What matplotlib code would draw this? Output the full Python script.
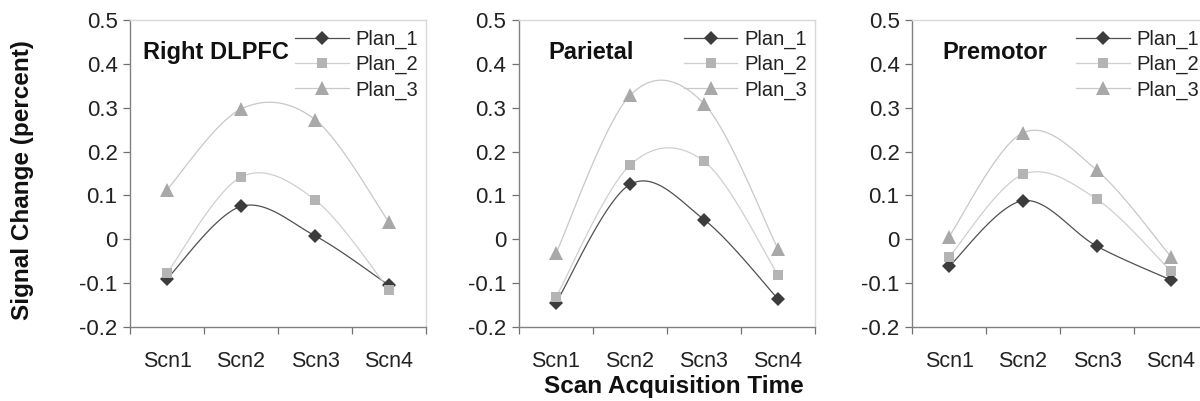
import numpy as np
import matplotlib
matplotlib.use("Agg")
import matplotlib.pyplot as plt

plt.rcParams['font.family'] = ['Liberation Sans', 'DejaVu Sans']

categories = ["Scn1", "Scn2", "Scn3", "Scn4"]
series_names = ["Plan_1", "Plan_2", "Plan_3"]
panel_titles = ["Right DLPFC", "Parietal", "Premotor"]

dlpfc_plan1 = [-0.090, 0.075, 0.008, -0.105]
dlpfc_plan2 = [-0.077, 0.142, 0.090, -0.115]
dlpfc_plan3 = [0.113, 0.297, 0.273, 0.039]

parietal_plan1 = [-0.145, 0.125, 0.045, -0.136]
parietal_plan2 = [-0.132, 0.169, 0.178, -0.081]
parietal_plan3 = [-0.032, 0.328, 0.309, -0.022]

premotor_plan1 = [-0.062, 0.088, -0.016, -0.093]
premotor_plan2 = [-0.041, 0.148, 0.091, -0.073]
premotor_plan3 = [0.006, 0.243, 0.157, -0.040]

panels = [
    [dlpfc_plan1, dlpfc_plan2, dlpfc_plan3],
    [parietal_plan1, parietal_plan2, parietal_plan3],
    [premotor_plan1, premotor_plan2, premotor_plan3],
]

y_ticks = [-0.2, -0.1, 0, 0.1, 0.2, 0.3, 0.4, 0.5]
y_tick_labels = ["-0.2", "-0.1", "0", "0.1", "0.2", "0.3", "0.4", "0.5"]

markers = ["D", "s", "^"]
marker_colors = ["#3c3c3c", "#b4b4b4", "#a8a8a8"]
line_colors = ["#505050", "#cfcfcf", "#c8c8c8"]
marker_sizes = [7.5, 7.5, 9.5]


def smooth(xs, ys, n=40):
    # Excel-style smoothed line: cubic Bezier segments, tension 1/6
    P = np.column_stack([xs, ys]).astype(float)
    m = len(P)
    out = []
    t = np.linspace(0, 1, n)[:, None]
    for i in range(m - 1):
        p0 = P[i - 1] if i > 0 else P[i]
        p1 = P[i]
        p2 = P[i + 1]
        p3 = P[i + 2] if i + 2 < m else P[i + 1]
        c1 = p1 + (p2 - p0) / 6.0
        c2 = p2 - (p3 - p1) / 6.0
        seg = ((1 - t) ** 3) * p1 + 3 * ((1 - t) ** 2) * t * c1 + 3 * (1 - t) * t ** 2 * c2 + t ** 3 * p2
        out.append(seg if i == 0 else seg[1:])
    arr = np.vstack(out)
    return arr[:, 0], arr[:, 1]


fig = plt.figure(figsize=(12, 4.01), dpi=100)

W, H = 1200, 401
ax_lefts = [130, 519, 912]
ax_w = 296
ax_top, ax_bot = 20, 327
title_x = [0.044, 0.098, 0.101]
legend_x = [0.558, 0.557, 0.555]

x = np.arange(len(categories))

for k, (data, title) in enumerate(zip(panels, panel_titles)):
    ax = fig.add_axes([ax_lefts[k] / W, 1 - ax_bot / H, ax_w / W, (ax_bot - ax_top) / H])
    handles = []
    for j, vals in enumerate(data):
        sx, sy = smooth(x, vals)
        ax.plot(sx, sy, color=line_colors[j], lw=0.9, zorder=2)
        ax.plot(x, vals, linestyle='none', marker=markers[j], color=marker_colors[j],
                markersize=marker_sizes[j], markeredgewidth=0, zorder=3)
        h, = ax.plot([], [], color=line_colors[j], lw=0.9, marker=markers[j],
                     markerfacecolor=marker_colors[j], markeredgewidth=0,
                     markersize=marker_sizes[j], label=series_names[j])
        handles.append(h)
    ax.set_xlim(-0.5, 3.5)
    ax.set_ylim(-0.2, 0.5)
    ax.set_yticks(y_ticks)
    ax.set_yticklabels(y_tick_labels)
    ax.set_xticks(x)
    ax.set_xticklabels(categories)
    ax.set_xticks(np.arange(-0.5, 3.6, 1.0), minor=True)
    ax.tick_params(axis='x', which='major', length=0, pad=17, labelsize=15.5, colors='#222222')
    ax.tick_params(axis='x', which='minor', length=5, width=0.9, color='#707070', direction='out')
    ax.tick_params(axis='y', length=5, width=0.9, color='#707070', direction='out', labelsize=16,
                   labelcolor='#222222', pad=4)
    for s in ['left', 'bottom']:
        ax.spines[s].set_color('#808080')
        ax.spines[s].set_linewidth(1.0)
    for s in ['top', 'right']:
        ax.spines[s].set_color('#d8d8d8')
        ax.spines[s].set_linewidth(1.0)
    ax.text(title_x[k], 0.893, title, transform=ax.transAxes, fontsize=17, fontweight='bold',
            va='center', ha='left', color='#111111')
    leg = ax.legend(handles=handles, loc='upper left', bbox_to_anchor=(legend_x[k], 0.968),
                    frameon=False, fontsize=14.5, handlelength=2.65, handletextpad=0.35,
                    labelspacing=0.3, borderpad=0, borderaxespad=0)
    for t in leg.get_texts():
        t.set_color('#222222')
    leg.set_zorder(5)

fig.text(23 / W, 0.551, "Signal Change (percent)", rotation=90, fontsize=17.5, fontweight='bold',
         ha='center', va='center', color='#111111')
fig.text(674 / W, 1 - 387 / H, "Scan Acquisition Time", fontsize=17.5, fontweight='bold',
         ha='center', va='center', color='#111111')

fig.savefig("out.png", dpi=100)
